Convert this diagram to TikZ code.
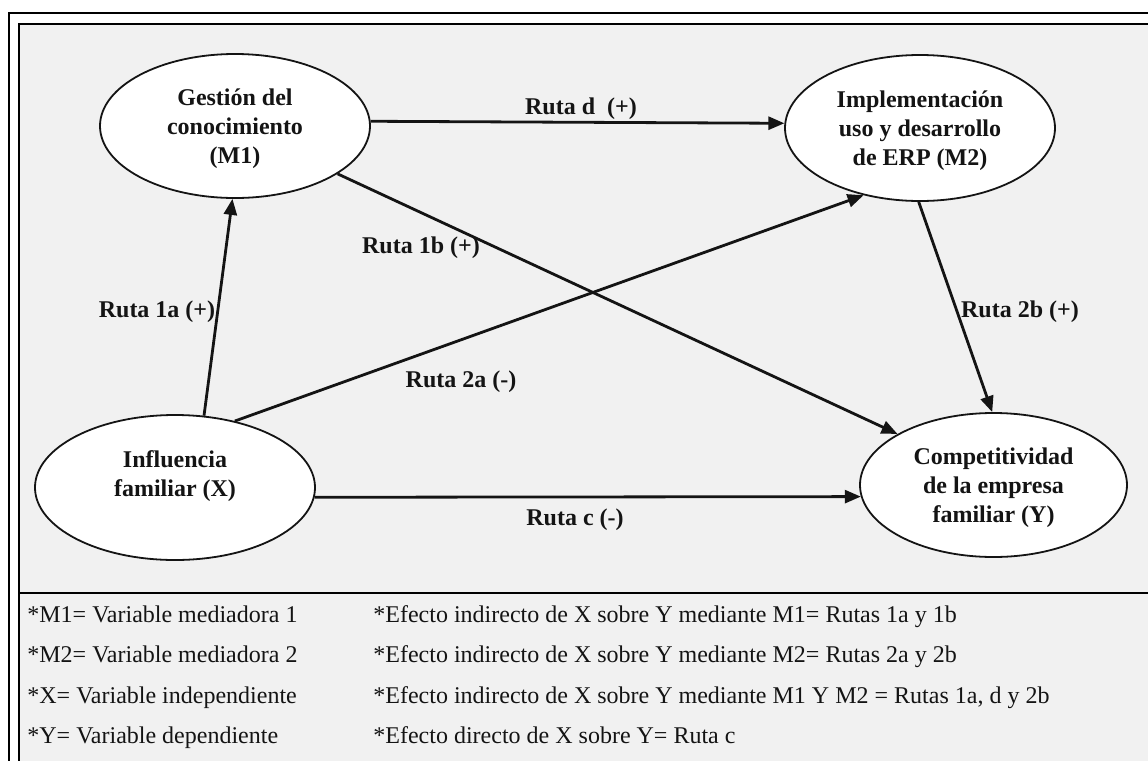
\documentclass[tikz,border=0pt]{standalone}
\usepackage{fontspec}
\setmainfont{Liberation Serif}
\usetikzlibrary{arrows.meta,shapes.geometric}
\definecolor{panel}{HTML}{F1F1F1}
\definecolor{ink}{HTML}{141414}
\begin{document}
\begin{tikzpicture}[x=0.5pt,y=-0.5pt,
  construct/.style={draw=ink,line width=0.9pt,fill=white,ellipse,inner sep=0pt},
  cname/.style={align=center,font=\fontsize{12}{14.5}\selectfont\bfseries,text=ink},
  path/.style={draw=ink,line width=1.4pt,-{Triangle[length=8pt,width=6.5pt]}},
  pathlab/.style={font=\fontsize{12}{14.5}\selectfont\bfseries,text=ink,inner sep=1pt,
    text height=8.5pt,text depth=2.5pt},
  legend/.style={anchor=west,font=\fontsize{12}{14.5}\selectfont,text=ink,inner sep=0pt,
    text height=8.5pt,text depth=2.5pt},
  frame/.style={draw=black,line width=1.1pt}]
\useasboundingbox (0,0) rectangle (1148,761);
\clip (0,0) rectangle (1148,761);

% double frame and shaded panel
\fill[panel] (19,24) rectangle (1160,775);
\draw[frame] (9,775) -- (9,13) -- (1160,13);
\draw[frame] (19,775) -- (19,24) -- (1160,24);
\draw[frame] (19,593) -- (1160,593);

% constructs
\node[construct,minimum width=135pt,minimum height=72pt] (M1) at (235,126) {};
\node[cname] at (235,129) {Gestión del\\conocimiento\\(M1)};
\node[construct,minimum width=135pt,minimum height=73pt] (M2) at (920,128) {};
\node[cname] at (920,131) {Implementación\\uso y desarrollo\\de ERP (M2)};
\node[construct,minimum width=140pt,minimum height=72.5pt] (X) at (175,487.5) {};
\node[cname] at (175,476) {Influencia\\familiar (X)};
\node[construct,minimum width=133.5pt,minimum height=72pt] (Y) at (993.5,485) {};
\node[cname] at (993.5,488) {Competitividad\\de la empresa\\familiar (Y)};

% paths
\draw[path] (X.68) -- (M1.-92);
\draw[path] (M1.-25.6) -- (Y.152);
\draw[path] (X.48.4) -- (M2.230);
\draw[path] (M2.-91.5) -- (Y.91);
\draw[path] (M1.2) -- (M2.178);
\draw[path] (X.-4) -- (Y.185);

% path labels
\node[pathlab] (l1a) at (157,311) {Ruta 1a (+)};
\node[pathlab] (l1b) at (421,247) {Ruta 1b (+)};
\node[pathlab] (ld) at (581,108) {Ruta d\ \ (+)};
\node[pathlab] (l2a) at (461,381) {Ruta 2a (-)};
\node[pathlab] (l2b) at (1020,311) {Ruta 2b (+)};
\node[pathlab] (lc) at (575,519) {Ruta c (-)};

% legend
\node[legend] (k1) at (27,616) {*M1= Variable mediadora 1};
\node[legend] (k2) at (27,656) {*M2= Variable mediadora 2};
\node[legend] (k3) at (27,697) {*X= Variable independiente};
\node[legend] (k4) at (27,737) {*Y= Variable dependiente};
\node[legend] (e1) at (373,616) {*Efecto indirecto de X sobre Y mediante M1= Rutas 1a y 1b};
\node[legend] (e2) at (373,656) {*Efecto indirecto de X sobre Y mediante M2= Rutas 2a y 2b};
\node[legend] (e3) at (373,697) {*Efecto indirecto de X sobre Y mediante M1 Y M2 = Rutas 1a, d y 2b};
\node[legend] (e4) at (373,737) {*Efecto directo de X sobre Y= Ruta c};
\end{tikzpicture}
\end{document}
